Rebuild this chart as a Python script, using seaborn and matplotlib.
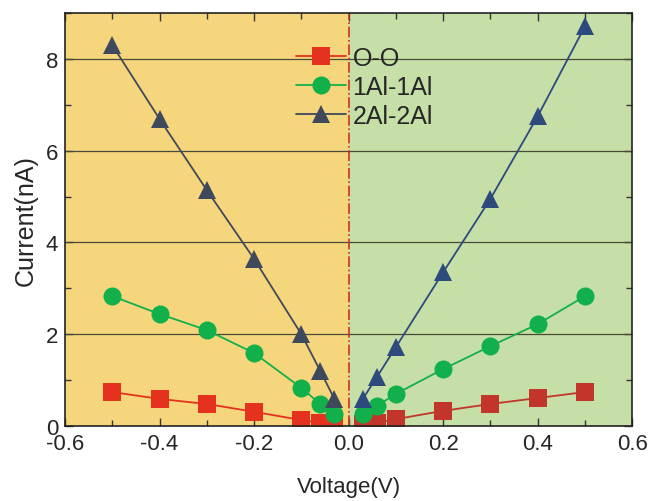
import numpy as np
import pandas as pd
import matplotlib
matplotlib.use("Agg")
import matplotlib.pyplot as plt
from matplotlib.ticker import MultipleLocator
import seaborn as sns

voltage = [-0.5, -0.4, -0.3, -0.2, -0.1, -0.06, -0.03,
           0.03, 0.06, 0.1, 0.2, 0.3, 0.4, 0.5]
current_oo = [0.74, 0.59, 0.48, 0.31, 0.13, 0.07, 0.04,
              0.04, 0.07, 0.15, 0.33, 0.48, 0.61, 0.74]
current_1al = [2.83, 2.44, 2.09, 1.59, 0.83, 0.48, 0.26,
               0.26, 0.44, 0.70, 1.24, 1.74, 2.22, 2.83]
current_2al = [8.30, 6.69, 5.14, 3.64, 2.00, 1.20, 0.59,
               0.59, 1.07, 1.72, 3.35, 4.95, 6.75, 8.71]
series_names = ["O-O", "1Al-1Al", "2Al-2Al"]

rows = []
for name, vals in zip(series_names, [current_oo, current_1al, current_2al]):
    for v, c in zip(voltage, vals):
        rows.append({"Voltage": v, "Current": c, "series": name,
                     "side": "neg" if v < 0 else "pos"})
df = pd.DataFrame(rows)

sns.set_theme(style="ticks")
plt.rcParams['font.family'] = ['Liberation Sans', 'DejaVu Sans']

# colours differ a little on each side of 0 V (as in the original figure)
pal_neg = {"O-O": "#E5321F", "1Al-1Al": "#12B04A", "2Al-2Al": "#3E4A5B"}
pal_pos = {"O-O": "#C2352A", "1Al-1Al": "#12B04A", "2Al-2Al": "#2D4A7D"}
markers = {"O-O": "s", "1Al-1Al": "o", "2Al-2Al": "^"}

fig = plt.figure(figsize=(6.52, 5.02), dpi=100)
ax = fig.add_axes([0.0997, 0.1494, 0.8700, 0.8227])

ax.axvspan(-0.6, 0.0, color="#F6D67C", zorder=0)
ax.axvspan(0.0, 0.6, color="#C6DFA7", zorder=0)
for yv in [2, 4, 6, 8]:
    ax.axhline(yv, color="#4a4a3a", lw=0.9, zorder=1)
ax.axvline(0.0, color="#D0301E", lw=1.2, ls="-.", zorder=1)

sns.lineplot(data=df[df.side == "neg"], x="Voltage", y="Current", hue="series",
             style="series", markers=markers, dashes=False, palette=pal_neg,
             markersize=13, markeredgewidth=0, lw=1.3, ax=ax, zorder=3,
             legend=True, sort=False)
sns.lineplot(data=df[df.side == "pos"], x="Voltage", y="Current", hue="series",
             style="series", markers=markers, dashes=False, palette=pal_pos,
             markersize=13, markeredgewidth=0, lw=1.3, ax=ax, zorder=3,
             legend=False, sort=False)

handles, labels = ax.get_legend_handles_labels()
leg = ax.legend(handles, labels, loc="upper left", bbox_to_anchor=(0.39, 0.945),
                frameon=False, fontsize=18, handlelength=2.0, handletextpad=0.25,
                labelspacing=0.2, borderaxespad=0)
for h in leg.legend_handles:
    h.set_markersize(13)

ax.set_xlim(-0.6, 0.6)
ax.set_ylim(0, 9)
ax.xaxis.set_major_locator(MultipleLocator(0.2))
ax.xaxis.set_minor_locator(MultipleLocator(0.1))
ax.yaxis.set_major_locator(MultipleLocator(2))
ax.yaxis.set_minor_locator(MultipleLocator(1))
ax.set_xticklabels([f"{t:.1f}" for t in ax.get_xticks()])
ax.tick_params(which="both", direction="in", top=True, right=True,
               labelsize=16, color="#333333")
ax.tick_params(which="major", length=6, width=1, pad=5)
ax.tick_params(which="minor", length=4, width=1)
for s in ax.spines.values():
    s.set_linewidth(1.2)
    s.set_color("#222222")
    s.set_zorder(5)

ax.set_xlabel("Voltage(V)", fontsize=16, labelpad=16)
ax.set_ylabel("Current(nA)", fontsize=18, labelpad=6)

fig.savefig("out.png", dpi=100)
